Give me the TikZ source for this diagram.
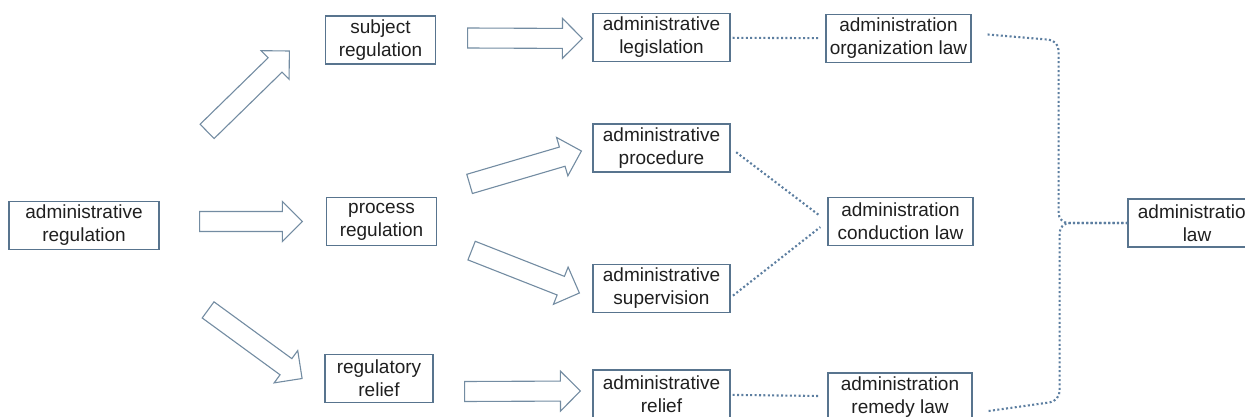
\documentclass[tikz,border=0pt]{standalone}
\usepackage{fontspec}
\setmainfont{Liberation Sans}
\usetikzlibrary{calc,positioning}
\definecolor{boxline}{RGB}{88,116,142}
\definecolor{arrline}{RGB}{115,140,162}
\definecolor{dotline}{RGB}{92,126,160}

\newcommand{\bigarrow}[2]{%
  \coordinate (hb) at ($(#2)!20pt!(#1)$);
  \draw[arr] ($(#1)!10pt!90:(#2)$) -- ($(hb)!10pt!90:(#2)$) -- ($(hb)!20pt!90:(#2)$) -- (#2)
    -- ($(hb)!20pt!-90:(#2)$) -- ($(hb)!10pt!-90:(#2)$) -- ($(#1)!10pt!-90:(#2)$) -- cycle;}

\begin{document}
\begin{tikzpicture}[x=1pt, y=1pt]
\tikzstyle{bx}=[draw=boxline, line width=1.2pt, minimum height=48pt, inner sep=2pt, align=center, font=\fontsize{19pt}{23pt}\selectfont, text=black!88]
\tikzstyle{arr}=[draw=arrline, line width=1.1pt, line join=miter, fill=white]
\tikzstyle{dots}=[dotline, line width=2.1pt, dash pattern=on 2pt off 2.4pt]

\useasboundingbox (0,0) rectangle (1245,-417);
\clip (0,0) rectangle (1245,-417);

\node[bx, minimum width=150pt] (reg) at (84,-225.5) {administrative\\regulation};
\node[bx, minimum width=110pt, node distance=297.5pt, right of = reg, yshift=4pt] (proc) {process\\regulation};
\node[bx, minimum width=110pt, node distance=181.5pt, above of = proc, xshift=-1pt] (subj) {subject\\regulation};
\node[bx, minimum width=108pt, node distance=157pt, below of = proc, xshift=-2.5pt] (relief) {regulatory\\relief};
\node[bx, minimum width=137pt, node distance=281pt, right of = subj, yshift=2.5pt] (legis) {administrative\\legislation};
\node[bx, minimum width=137pt, node distance=280pt, right of = proc, yshift=73.5pt] (proced) {administrative\\procedure};
\node[bx, minimum width=137pt, node distance=280pt, right of = proc, yshift=-67pt] (superv) {administrative\\supervision};
\node[bx, minimum width=137pt, node distance=282.5pt, right of = relief, yshift=-15.5pt] (arelief) {administrative\\relief};
\node[bx, minimum width=145pt, node distance=237pt, right of = legis, yshift=-1pt] (org) {administration\\organization law};
\node[bx, minimum width=145pt, node distance=519pt, right of = proc] (cond) {administration\\conduction law};
\node[bx, minimum width=144pt, node distance=238.5pt, right of = arelief, yshift=-3pt] (remedy) {administration\\remedy law};
\node[bx, minimum width=138pt, node distance=296.5pt, right of = cond, yshift=-1.5pt] (alaw) {administration\\law};

\coordinate (t1) at ([shift={(47.5,69.5)}]reg.north east);
\coordinate (h1) at ([shift={(-35.5,-11)}]subj.west);
\coordinate (t2) at ([shift={(40,4)}]reg.east);
\coordinate (h2) at ([shift={(-23.5,0)}]proc.west);
\coordinate (t3) at ([shift={(48.5,-59.8)}]reg.south east);
\coordinate (h3) at ([shift={(-22.3,0)}]relief.west);
\coordinate (t4) at ([shift={(31.5,2)}]subj.east);
\coordinate (h4) at ([shift={(-10,-1)}]legis.west);
\coordinate (t5) at ([shift={(32.5,13)}]proc.north east);
\coordinate (h5) at ([shift={(-11,-3)}]proced.west);
\coordinate (t6) at ([shift={(34.5,-4.5)}]proc.south east);
\coordinate (h6) at ([shift={(-13,-4.5)}]superv.west);
\coordinate (t7) at ([shift={(31,-13)}]relief.east);
\coordinate (h7) at ([shift={(-12,3)}]arelief.west);
\bigarrow{t1}{h1}
\bigarrow{t2}{h2}
\bigarrow{t3}{h3}
\bigarrow{t4}{h4}
\bigarrow{t5}{h5}
\bigarrow{t6}{h6}
\bigarrow{t7}{h7}

\draw[dots, shorten <=2pt, shorten >=7pt] (legis) -- (org);
\draw[dots, shorten <=7pt, shorten >=9pt] (proced.east) -- (cond.west);
\draw[dots, shorten <=3pt, shorten >=9pt] ([yshift=-9pt]superv.east) -- (cond.west);
\draw[dots, shorten <=2pt, shorten >=7pt] (arelief) -- (remedy);
\draw[dots, rounded corners=10pt] ([shift={(16,4)}]org.east) -- ++(71,-6) |- (alaw.west);
\draw[dots, rounded corners=10pt] ([shift={(16,-14)}]remedy.east) -- ++(71,10) |- (alaw.west);
\end{tikzpicture}
\end{document}
